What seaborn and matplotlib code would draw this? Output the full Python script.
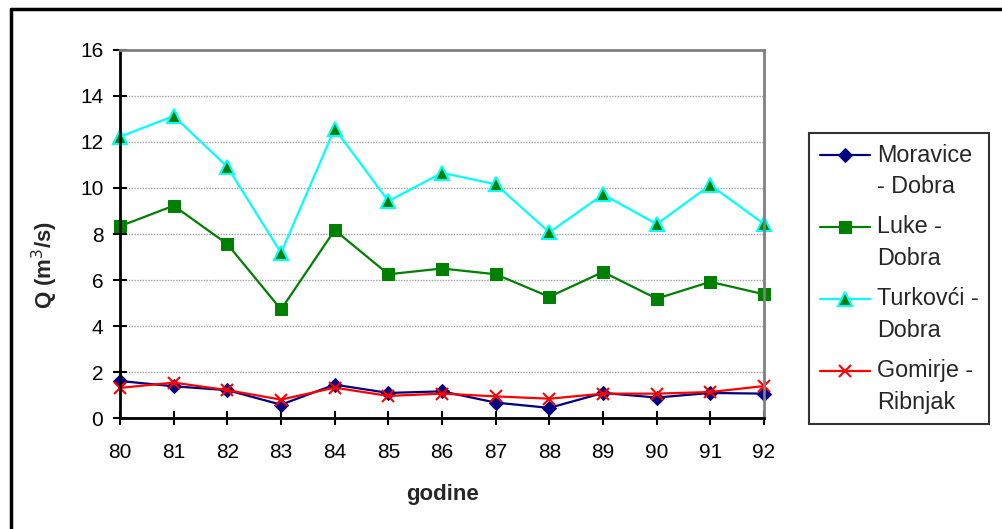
import matplotlib
matplotlib.use("Agg")
import matplotlib.pyplot as plt
import seaborn as sns
import pandas as pd
from matplotlib.lines import Line2D
from matplotlib.transforms import Affine2D

years = [80, 81, 82, 83, 84, 85, 86, 87, 88, 89, 90, 91, 92]
moravice = [1.61, 1.38, 1.21, 0.58, 1.45, 1.09, 1.16, 0.67, 0.44, 1.09, 0.89, 1.09, 1.06]
luke = [8.34, 9.23, 7.56, 4.72, 8.17, 6.25, 6.50, 6.25, 5.27, 6.35, 5.19, 5.92, 5.38]
turkovci = [12.23, 13.13, 10.92, 7.18, 12.58, 9.43, 10.66, 10.16, 8.07, 9.72, 8.43, 10.13, 8.43]
gomirje = [1.31, 1.54, 1.21, 0.80, 1.32, 0.96, 1.06, 0.94, 0.84, 1.06, 1.06, 1.13, 1.39]
labels = ["Moravice\n- Dobra", "Luke -\nDobra", "Turkovći -\nDobra", "Gomirje -\nRibnjak"]

sns.set_theme(style="white")
plt.rcParams["font.family"] = ["Liberation Sans", "DejaVu Sans"]

fig = plt.figure(figsize=(10.02, 5.29), dpi=100)
ax = fig.add_axes([0.1198, 0.2098, 0.7625 - 0.1198, 0.9055 - 0.2098])

df = pd.DataFrame({"year": years, "m": moravice, "l": luke, "t": turkovci, "g": gomirje})

styles = [
    ("m", dict(color="#000080", marker="D", markersize=7, markerfacecolor="#000080", markeredgecolor="#000080")),
    ("l", dict(color="#008000", marker="s", markersize=8.5, markerfacecolor="#008000", markeredgecolor="#008000")),
    ("t", dict(color="#00FFFF", marker="^", markersize=9.5, markerfacecolor="#008000", markeredgecolor="#00FFFF", markeredgewidth=1.5)),
    ("g", dict(color="#FF0000", marker="x", markersize=8, markeredgecolor="#FF0000", markeredgewidth=1.5)),
]
for (col, st), lab in zip(styles, labels):
    sns.lineplot(data=df, x="year", y=col, ax=ax, linewidth=1.6, label=lab, **st)

ax.set_xlim(80, 92)
ax.set_ylim(0, 16)
ax.set_xticks(years)
ax.set_yticks(range(0, 17, 2))
ax.tick_params(axis="both", direction="inout", length=10, width=1.5, color="black",
               labelsize=15, labelcolor="black", bottom=True, left=True)
ax.tick_params(axis="y", pad=7)
ax.tick_params(axis="x", pad=13)
ax.yaxis.grid(True, color="#a0a0a0", linestyle=(0, (1, 1)), linewidth=1)
ax.xaxis.grid(False)
for s in ["left", "bottom"]:
    ax.spines[s].set_color("black")
    ax.spines[s].set_linewidth(2)
for s in ["top", "right"]:
    ax.spines[s].set_color("#808080")
    ax.spines[s].set_linewidth(2)
for ln in ax.lines:
    ln.set_clip_on(False)

ax.set_xlabel("godine", fontsize=16, fontweight="bold")
ax.set_ylabel("Q (m$^3$/s)", fontsize=16, fontweight="bold")
ax.xaxis.set_label_coords((442 - 120) / 644, (418 - 494) / 368)
ax.xaxis.label.set_va("center")
ax.yaxis.set_label_coords((45 - 120) / 644, (418 - 265) / 368)
ax.yaxis.label.set_va("center")

leg = ax.legend(loc="upper left", bbox_to_anchor=(809 / 1002, 1 - 133 / 529),
                bbox_transform=fig.transFigure, fontsize=16.8, frameon=True,
                fancybox=False, edgecolor="black", handlelength=2.15,
                handletextpad=0.3, borderpad=0.45, labelspacing=0.75,
                borderaxespad=0)
leg.get_frame().set_linewidth(1.5)
for t in leg.get_texts():
    t.set_linespacing(1.47)
for h in leg.legend_handles:
    h.set_transform(h.get_transform() + Affine2D().translate(0, 16.5))

# outer chart-area frame (left and top edges visible)
fig.add_artist(Line2D([11 / 1002, 11 / 1002], [0, 1 - 9 / 529], transform=fig.transFigure, color="black", linewidth=2.5))
fig.add_artist(Line2D([11 / 1002, 1], [1 - 9 / 529, 1 - 9 / 529], transform=fig.transFigure, color="black", linewidth=2.5))

fig.savefig("out.png", dpi=100)
